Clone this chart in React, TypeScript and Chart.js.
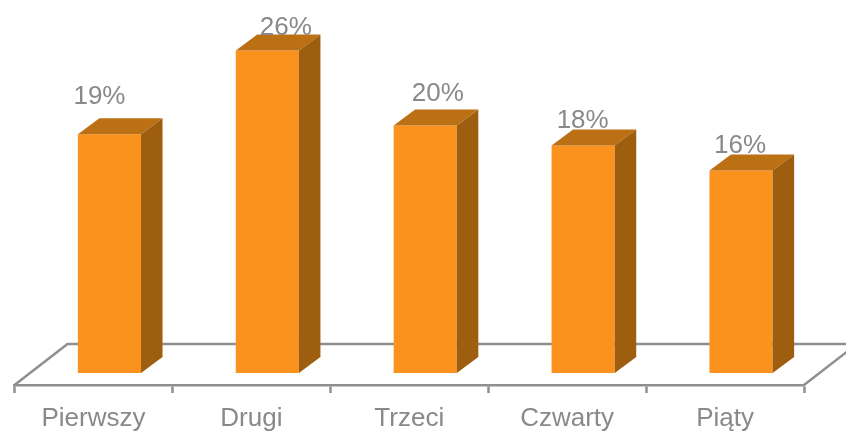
import React, { useEffect, useRef } from "react";
import { Chart, registerables } from "chart.js";

Chart.register(...registerables);

const categories = ["Pierwszy", "Drugi", "Trzeci", "Czwarty", "Piąty"];
const shares = [19.1, 25.8, 19.8, 18.2, 16.2];

const FONT = "'Liberation Sans', Arial, sans-serif";
const TEXT = "#898989";
const LINE = "#8f8f8f";
const FRONT = "#FB921E";
const TOP = "#BC7014";
const SIDE = "#9E5E10";
const FLOOR_DX = 53;
const FLOOR_DY = 41;
const BAR_SHIFT_X = 16;
const BAR_SHIFT_Y = -12;
const DEPTH_X = 21.5;
const DEPTH_Y = 16;
const labelShift: [number, number][] = [
  [-10, -37],
  [18.5, -23],
  [12.5, -32],
  [-0.5, -25],
  [-1, -25],
];

const poly = (ctx: CanvasRenderingContext2D, pts: number[][], fill: string) => {
  ctx.beginPath();
  pts.forEach(([x, y], i) => (i ? ctx.lineTo(x, y) : ctx.moveTo(x, y)));
  ctx.closePath();
  ctx.fillStyle = fill;
  ctx.fill();
};

const solid3d = {
  id: "solid3d",
  beforeDatasetsDraw(chart: any) {
    const { ctx, chartArea: a } = chart;
    ctx.save();
    ctx.strokeStyle = LINE;
    ctx.lineWidth = 2.5;
    ctx.beginPath();
    ctx.moveTo(a.left, a.bottom);
    ctx.lineTo(a.left + FLOOR_DX, a.bottom - FLOOR_DY);
    ctx.lineTo(a.right + FLOOR_DX, a.bottom - FLOOR_DY);
    ctx.lineTo(a.right, a.bottom);
    ctx.stroke();
    ctx.restore();
  },
  beforeDatasetDraw(chart: any) {
    chart.ctx.save();
    chart.ctx.translate(BAR_SHIFT_X, BAR_SHIFT_Y);
  },
  afterDatasetDraw(chart: any) {
    const ctx = chart.ctx;
    chart.getDatasetMeta(0).data.forEach((bar: any) => {
      const { x, y, base, width } = bar.getProps(["x", "y", "base", "width"], true);
      const l = x - width / 2;
      const r = x + width / 2;
      poly(ctx, [[l, y], [l + DEPTH_X, y - DEPTH_Y], [r + DEPTH_X, y - DEPTH_Y], [r, y]], TOP);
      poly(ctx, [[r, y], [r + DEPTH_X, y - DEPTH_Y], [r + DEPTH_X, base - DEPTH_Y], [r, base]], SIDE);
    });
    ctx.restore();
  },
  afterDatasetsDraw(chart: any) {
    const ctx = chart.ctx;
    ctx.save();
    ctx.font = `26px ${FONT}`;
    ctx.fillStyle = TEXT;
    ctx.textAlign = "center";
    ctx.textBaseline = "middle";
    chart.getDatasetMeta(0).data.forEach((bar: any, i: number) => {
      const { x, y } = bar.getProps(["x", "y"], true);
      const [dx, dy] = labelShift[i];
      ctx.fillText(
        `${Math.round(shares[i])}%`,
        x + BAR_SHIFT_X + dx,
        y + BAR_SHIFT_Y + dy
      );
    });
    ctx.restore();
  },
};

export default function App() {
  const ref = useRef<HTMLCanvasElement>(null);

  useEffect(() => {
    document.body.style.margin = "0";
    const chart = new Chart(ref.current as HTMLCanvasElement, {
      type: "bar",
      data: {
        labels: categories,
        datasets: [
          {
            data: shares,
            backgroundColor: FRONT,
            borderWidth: 0,
            categoryPercentage: 0.4,
            barPercentage: 1,
          },
        ],
      },
      options: {
        responsive: false,
        animation: false,
        layout: { padding: { left: 14.5, right: 42, top: 0, bottom: 0 } },
        plugins: { legend: { display: false }, tooltip: { enabled: false } },
        scales: {
          x: {
            grid: {
              drawOnChartArea: false,
              drawTicks: true,
              tickLength: 8,
              tickWidth: 2.5,
              tickColor: LINE,
              color: LINE,
              offset: true,
            },
            border: { color: LINE, width: 2.5 },
            ticks: {
              color: TEXT,
              font: { family: FONT, size: 26 },
              padding: 10,
              maxRotation: 0,
              autoSkip: false,
            },
            afterFit(axis: any) {
              axis.height = 46;
            },
          },
          y: { display: false, min: 0, max: 30.8 },
        },
      },
      plugins: [solid3d],
    } as any);
    return () => chart.destroy();
  }, []);

  return (
    <canvas
      ref={ref}
      width={846}
      height={431}
      style={{ display: "block", width: 846, height: 431 }}
    />
  );
}
